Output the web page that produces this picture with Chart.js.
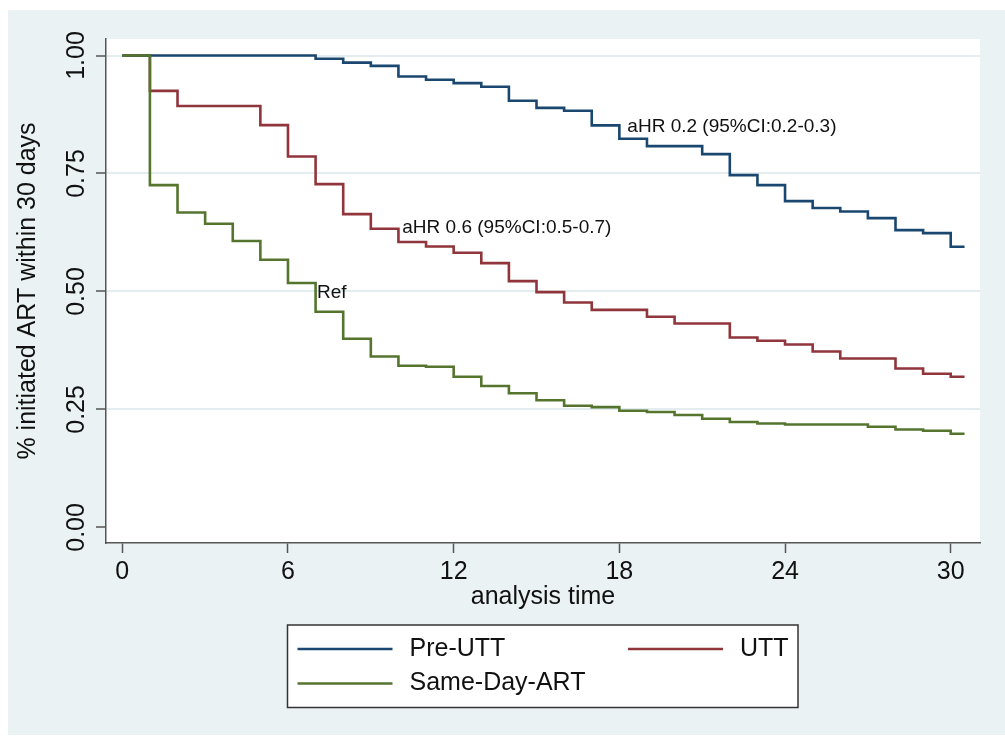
<!DOCTYPE html>
<html>
<head>
<meta charset="utf-8">
<script src="https://cdn.jsdelivr.net/npm/chart.js@4.4.1/dist/chart.umd.min.js"></script>
<style>
  html, body { margin: 0; padding: 0; background: #ffffff; }
  #wrap { width: 1005px; height: 740px; position: relative; }
  canvas { display: block; }
</style>
</head>
<body>
<div id="wrap"><canvas id="c" width="1005" height="740"></canvas></div>
<script>
// ---------------- data ----------------
const days = [0,1,2,3,4,5,6,7,8,9,10,11,12,13,14,15,16,17,18,19,20,21,22,23,24,25,26,27,28,29,30,30.5];

const preUTT = [1.000,1.000,1.000,1.000,1.000,1.000,1.000,0.993,0.985,0.978,0.9555,0.9485,0.9415,0.9337,0.904,0.889,
                0.883,0.852,0.8235,0.808,0.808,0.791,0.7466,0.7254,0.6915,0.677,0.6695,0.6555,0.630,0.6237,0.5947,0.5947];

const utt = [1.000,0.925,0.893,0.893,0.893,0.8525,0.786,0.7275,0.664,0.633,0.6047,0.5953,0.582,0.560,0.522,0.4987,
             0.4767,0.461,0.461,0.4464,0.4322,0.4322,0.4025,0.3956,0.3877,0.3729,0.358,0.358,0.3369,0.3256,0.3193,0.3193];

const sameDayART = [1.000,0.7254,0.6674,0.6434,0.6068,0.5672,0.5178,0.457,0.3998,0.3623,0.3426,0.3405,0.3193,0.2996,0.2843,0.2695,
                    0.2578,0.255,0.2472,0.2445,0.2381,0.2303,0.2233,0.2203,0.2182,0.2182,0.2182,0.2133,0.2076,0.2049,0.1985,0.1985];

const seriesNames = ['Pre-UTT', 'UTT', 'Same-Day-ART'];
const xTicks = [0, 6, 12, 18, 24, 30];
const yTicks = [0, 0.25, 0.5, 0.75, 1];
const yTickLabels = ['0.00', '0.25', '0.50', '0.75', '1.00'];

const annotTexts = ['aHR 0.2 (95%CI:0.2-0.3)', 'aHR 0.6 (95%CI:0.5-0.7)', 'Ref'];
const annotX = [18.29, 10.14, 7.05];
const annotY = [0.850, 0.635, 0.497];

const xTitle = 'analysis time';
const yTitle = '% initiated ART within 30 days';

// ---------------- styles ----------------
const colors = ['#1a476f', '#90353b', '#55752f'];
const FONT = "'Liberation Sans', Arial, sans-serif";
const TEXT = '#111111';
const AXIS = '#555555';
const BG = '#eaf2f3';

function pts(vals) { return days.map((d, i) => ({ x: d, y: vals[i] })); }

const bgPlugin = {
  id: 'bg',
  beforeDraw(chart) {
    const { ctx, chartArea: a } = chart;
    ctx.save();
    ctx.fillStyle = '#ffffff';
    ctx.fillRect(0, 0, chart.width, chart.height);
    ctx.fillStyle = BG;
    ctx.fillRect(8, 10, chart.width - 8, 725);
    ctx.fillStyle = '#ffffff';
    ctx.fillRect(a.left, a.top, a.right - a.left, a.bottom - a.top);
    ctx.restore();
  }
};

const textPlugin = {
  id: 'texts',
  afterDraw(chart) {
    const { ctx } = chart;
    const xs = chart.scales.x, ys = chart.scales.y;
    ctx.save();
    // rotated y tick labels
    ctx.fillStyle = TEXT;
    ctx.font = '25px ' + FONT;
    ctx.textAlign = 'center';
    ctx.textBaseline = 'middle';
    yTicks.forEach((v, i) => {
      const py = ys.getPixelForValue(v);
      ctx.save();
      ctx.translate(77, py);
      ctx.rotate(-Math.PI / 2);
      ctx.fillText(yTickLabels[i], 0, 0);
      ctx.restore();
    });
    // annotations
    ctx.font = '19px ' + FONT;
    ctx.textAlign = 'left';
    ctx.textBaseline = 'middle';
    annotTexts.forEach((t, i) => {
      ctx.fillText(t, xs.getPixelForValue(annotX[i]), ys.getPixelForValue(annotY[i]));
    });
    // legend
    const bx = 287.5, by = 625, bw = 510.5, bh = 82.5;
    ctx.fillStyle = '#ffffff';
    ctx.fillRect(bx, by, bw, bh);
    ctx.strokeStyle = '#333333';
    ctx.lineWidth = 1.5;
    ctx.strokeRect(bx, by, bw, bh);
    const slots = [[297.5, 649], [628, 649], [297.5, 683.5]];
    ctx.font = '25px ' + FONT;
    chart.data.datasets.forEach((ds, i) => {
      const [lx, ly] = slots[i];
      ctx.strokeStyle = ds.borderColor;
      ctx.lineWidth = 2.5;
      ctx.beginPath();
      ctx.moveTo(lx, ly);
      ctx.lineTo(lx + 95, ly);
      ctx.stroke();
      ctx.fillStyle = TEXT;
      ctx.fillText(ds.label, lx + 112, ly);
    });
    ctx.restore();
  }
};

new Chart(document.getElementById('c'), {
  type: 'line',
  data: {
    datasets: [
      { label: seriesNames[0], data: pts(preUTT), borderColor: colors[0], order: 1 },
      { label: seriesNames[1], data: pts(utt), borderColor: colors[1], order: 2 },
      { label: seriesNames[2], data: pts(sameDayART), borderColor: colors[2], order: 0 }
    ]
  },
  options: {
    responsive: false,
    animation: false,
    devicePixelRatio: 1,
    layout: { padding: { top: 39, right: 25, left: 0, bottom: 0 } },
    elements: {
      line: { borderWidth: 2.6, stepped: true, tension: 0, fill: false },
      point: { radius: 0, hoverRadius: 0 }
    },
    plugins: { legend: { display: false }, tooltip: { enabled: false } },
    scales: {
      x: {
        type: 'linear',
        min: -0.59,
        max: 31.06,
        afterBuildTicks: (s) => { s.ticks = xTicks.map(v => ({ value: v })); },
        afterFit: (s) => { s.height = 197; },
        ticks: { color: TEXT, font: { family: FONT, size: 25 }, padding: 4, maxRotation: 0, minRotation: 0,
                 callback: (v) => String(v) },
        grid: { display: true, drawOnChartArea: false, drawTicks: true, tickLength: 10, tickColor: AXIS, tickWidth: 1.5 },
        border: { display: true, color: AXIS, width: 1.5 },
        title: { display: true, text: xTitle, color: TEXT, font: { family: FONT, size: 25 }, padding: { top: 0, bottom: 128 } }
      },
      y: {
        type: 'linear',
        min: -0.033,
        max: 1.035,
        afterBuildTicks: (s) => { s.ticks = yTicks.map(v => ({ value: v })); },
        afterFit: (s) => { s.width = 106; },
        ticks: { display: false },
        grid: {
          display: true,
          drawOnChartArea: true,
          color: (c) => (c.tick && c.tick.value === 0) ? 'rgba(0,0,0,0)' : '#e3ecee',
          lineWidth: 2,
          drawTicks: true, tickLength: 10, tickColor: AXIS, tickWidth: 1.5
        },
        border: { display: true, color: AXIS, width: 1.5 },
        title: { display: true, text: yTitle, color: TEXT, font: { family: FONT, size: 25 }, padding: { top: 13, bottom: 0 } }
      }
    }
  },
  plugins: [bgPlugin, textPlugin]
});
</script>
</body>
</html>
